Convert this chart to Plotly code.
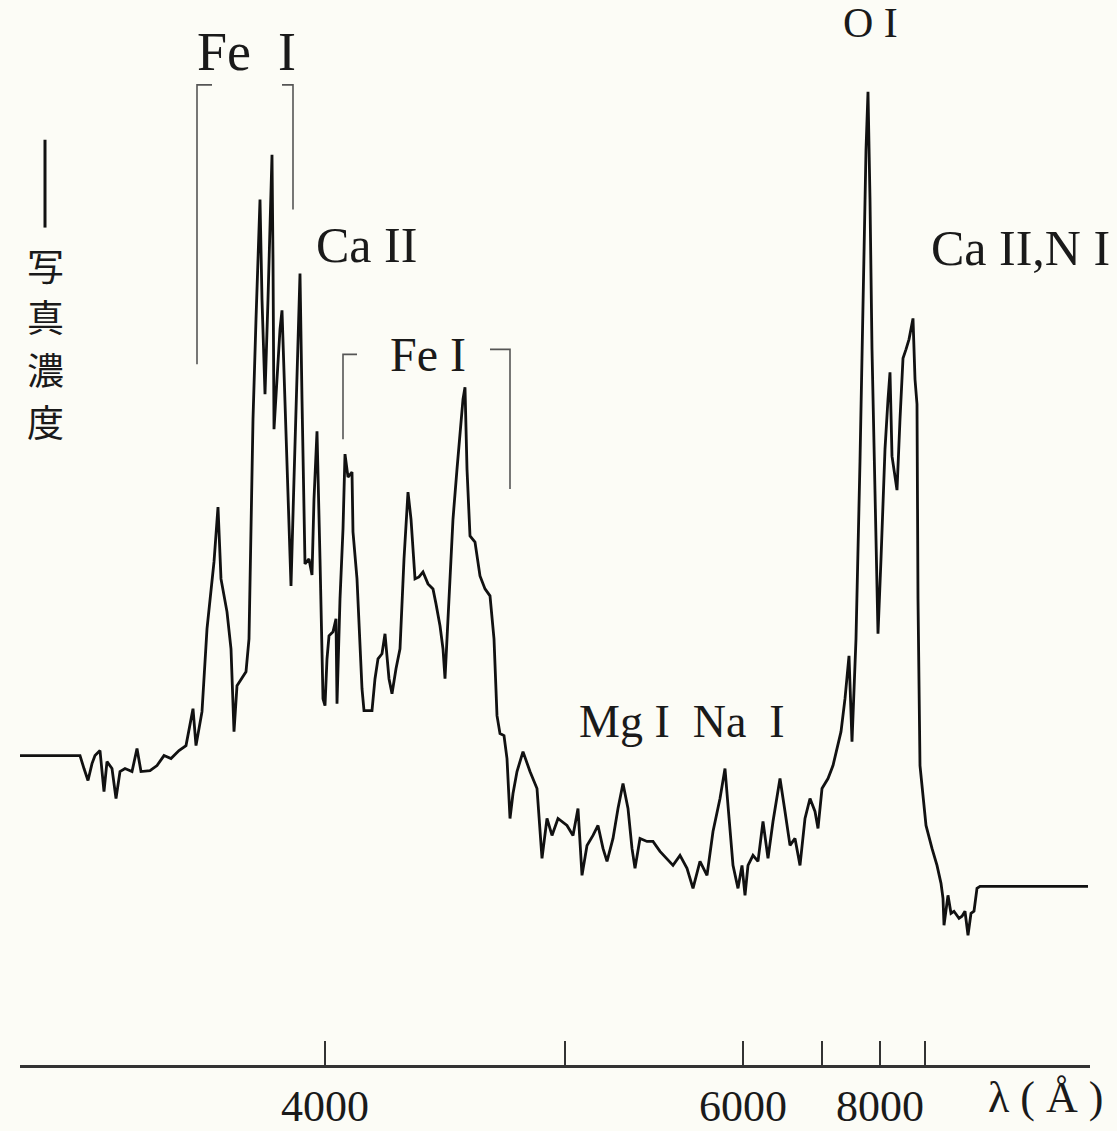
import plotly.graph_objects as go

# ---- data (position along plate, photographic density above axis) ----
pos = [20, 80, 84, 88, 92, 95, 100, 104, 107, 112, 116, 120, 125, 132, 137, 141, 150, 157, 164, 171,
       179, 186, 193, 196, 202, 207, 214, 218, 221, 227, 231, 234, 237, 246, 249, 251, 253, 256, 258, 260,
       262, 265, 268, 270, 272, 273, 274, 277, 280, 282, 285, 288, 291, 294, 297, 300, 302, 305, 309, 312,
       314, 317, 320, 323, 325, 327, 329, 333, 336, 337, 340, 343, 345, 348, 352, 353, 357, 360, 362, 364,
       368, 372, 375, 378, 382, 385, 389, 392, 396, 400, 404, 408, 411, 415, 419, 423, 428, 433, 436, 440,
       443, 445, 448, 453, 457, 460, 463, 465, 467, 470, 475, 480, 485, 490, 494, 497, 500, 504, 507, 510,
       513, 517, 523, 530, 537, 542, 547, 552, 558, 567, 573, 578, 582, 587, 593, 598, 603, 607, 613, 618,
       623, 628, 632, 635, 640, 647, 653, 660, 667, 673, 680, 687, 693, 700, 707, 713, 720, 725, 728, 733,
       738, 742, 745, 748, 753, 758, 763, 768, 773, 780, 785, 790, 795, 800, 805, 810, 815, 818, 822, 828,
       833, 838, 841, 845, 849, 852, 856, 860, 863, 866, 868, 870, 872, 875, 878, 881, 885, 888, 890, 892,
       895, 897, 900, 903, 906, 909, 913, 915, 917, 918, 920, 923, 926, 932, 937, 941, 943, 944, 948, 951,
       954, 959, 962, 965, 968, 971, 974, 977, 980, 1088]
trace_px = [757, 757, 770, 782, 765, 757, 752, 793, 763, 770, 800, 773, 770, 773, 750, 773, 772, 767, 757, 760,
            752, 747, 710, 747, 713, 630, 563, 508, 580, 613, 650, 733, 687, 673, 640, 540, 420, 320, 260, 200,
            300, 395, 300, 220, 155, 260, 430, 380, 330, 311, 400, 500, 587, 480, 380, 274, 400, 565, 560, 576,
            500, 432, 560, 700, 707, 660, 637, 633, 620, 705, 600, 530, 455, 478, 473, 533, 580, 640, 690, 712,
            712, 712, 680, 660, 655, 635, 680, 695, 670, 650, 560, 493, 520, 580, 578, 573, 585, 590, 605, 627,
            650, 680, 620, 520, 470, 437, 400, 388, 470, 537, 543, 577, 590, 597, 640, 717, 735, 737, 760, 820,
            795, 773, 753, 773, 790, 860, 820, 837, 820, 827, 837, 810, 877, 847, 837, 827, 850, 863, 840, 810,
            785, 810, 850, 870, 840, 843, 843, 853, 860, 867, 857, 870, 890, 863, 877, 833, 800, 770, 807, 867,
            890, 867, 897, 867, 857, 863, 823, 860, 823, 780, 813, 847, 840, 867, 820, 800, 813, 830, 790, 780,
            767, 747, 733, 700, 657, 743, 640, 462, 300, 150, 92, 200, 350, 500, 635, 560, 450, 400, 373, 457,
            480, 491, 420, 359, 350, 340, 319, 380, 405, 600, 767, 800, 827, 850, 867, 885, 900, 927, 897, 915,
            913, 920, 918, 913, 937, 915, 913, 890, 888, 888]
AXIS_PX = 1067
density = [AXIS_PX - v for v in trace_px]

tick_pos = [325, 565, 743, 822, 880, 925]
tick_text = ["4000", "", "6000", "", "8000", ""]

# line identifications: (text, x, y, font size)
labels = [
    ("Fe  I", 246, 1067 - 52, 54),
    ("Ca II", 366, 1067 - 245, 50),
    ("Fe I", 428, 1067 - 355, 48),
    ("O I", 870, 1067 - 23, 42),
    ("Ca II,N I", 1020, 1067 - 248, 50),
    ("Mg I  Na  I", 682, 1067 - 723, 46),
]
# vertical axis title characters and their centres (from top)
ytitle_chars = ["写", "真", "濃", "度"]
ytitle_centres = [265, 317, 370, 422]

# bracket polylines (x list, y-from-top list)
brackets = [
    ([212, 197, 197], [85, 85, 365]),
    ([282, 293, 293], [85, 85, 210]),
    ([357, 343, 343], [355, 355, 440]),
    ([490, 510, 510], [350, 350, 490]),
]

BG = "#fcfcf6"
fig = go.Figure()

for bx, by in brackets:
    fig.add_trace(go.Scatter(x=bx, y=[AXIS_PX - v for v in by], mode="lines",
                             line=dict(color="#555555", width=1.6), hoverinfo="skip", showlegend=False))

fig.add_trace(go.Scatter(x=pos, y=density, mode="lines",
                         line=dict(color="#111111", width=2.8), showlegend=False))

# y-axis indicator bar
fig.add_trace(go.Scatter(x=[45, 45], y=[AXIS_PX - 140, AXIS_PX - 228], mode="lines",
                         line=dict(color="#111111", width=3), hoverinfo="skip", showlegend=False))

for txt, x, y, fs in labels:
    fig.add_annotation(x=x, y=y, xref="x", yref="y", text=txt, showarrow=False,
                       xanchor="center", yanchor="middle",
                       font=dict(family="Liberation Serif", size=fs, color="#1a1a1a"))

for ch, cy in zip(ytitle_chars, ytitle_centres):
    fig.add_annotation(x=45, y=AXIS_PX - cy, xref="x", yref="y", text=ch, showarrow=False,
                       xanchor="center", yanchor="middle", borderpad=0,
                       font=dict(family="Noto Sans CJK JP", size=37, color="#1a1a1a"))

# wavelength unit label, below the axis (paper coordinates)
fig.add_annotation(x=1045, y=-33 / AXIS_PX, xref="x", yref="paper", text="λ ( Å )", showarrow=False,
                   xanchor="center", yanchor="middle",
                   font=dict(family="Liberation Serif", size=44, color="#1a1a1a"))

fig.update_layout(
    width=1117, height=1131,
    margin=dict(l=20, r=27, t=0, b=64),
    paper_bgcolor=BG, plot_bgcolor=BG,
    xaxis=dict(range=[20, 1090], showgrid=False, zeroline=False,
               showline=True, linecolor="#333333", linewidth=3,
               tickmode="array", tickvals=tick_pos, ticktext=tick_text,
               ticks="inside", ticklen=24, tickwidth=2, tickcolor="#333333",
               tickfont=dict(family="Liberation Serif", size=44, color="#1a1a1a")),
    yaxis=dict(range=[0, AXIS_PX], visible=False),
)

fig.write_html("out.html", config={"displayModeBar": False},
               post_script="document.body.style.margin='0';document.body.style.overflow='hidden';")
